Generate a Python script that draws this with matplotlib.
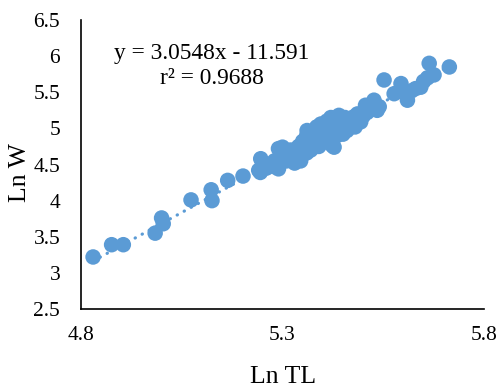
import numpy as np
import matplotlib.pyplot as plt

plt.rcParams['font.family'] = ['Liberation Serif', 'DejaVu Serif']

# Ln TL vs Ln W
ln_tl = [4.830, 4.876, 4.905, 4.984, 5.000, 5.004, 5.073, 5.123, 5.125, 5.164,
         5.202, 5.241, 5.246, 5.245,
         5.260, 5.270, 5.280, 5.280, 5.290, 5.295, 5.300, 5.303, 5.310, 5.310,
         5.320, 5.320, 5.330, 5.330, 5.340, 5.340, 5.345, 5.350, 5.350, 5.360,
         5.360, 5.361, 5.370, 5.370, 5.375, 5.380, 5.380, 5.385, 5.390, 5.390,
         5.395, 5.400, 5.400, 5.405, 5.410, 5.410, 5.415, 5.420, 5.420, 5.424,
         5.428, 5.430, 5.435, 5.440, 5.440, 5.450, 5.450, 5.455, 5.460, 5.460,
         5.470, 5.477, 5.480, 5.486, 5.494, 5.500, 5.506, 5.510, 5.520, 5.527,
         5.535, 5.540, 5.552, 5.577, 5.594, 5.600, 5.610, 5.620, 5.630, 5.643,
         5.650, 5.660, 5.664, 5.676, 5.714, 5.290, 5.300]
ln_w = [3.22, 3.39, 3.39, 3.55, 3.76, 3.68, 4.01, 4.15, 4.00, 4.28,
        4.34, 4.42, 4.58, 4.39,
        4.45, 4.50, 4.47, 4.55, 4.44, 4.52, 4.60, 4.69, 4.55, 4.65,
        4.58, 4.70, 4.62, 4.52, 4.66, 4.75, 4.55, 4.70, 4.82, 4.66,
        4.90, 4.97, 4.78, 4.70, 4.86, 4.95, 4.80, 5.02, 4.88, 4.75,
        5.06, 4.95, 4.82, 5.00, 4.90, 5.10, 4.80, 4.98, 5.15, 4.76,
        4.74, 5.05, 4.90, 5.18, 4.98, 5.08, 4.92, 5.15, 4.97, 5.05,
        5.12, 5.16, 5.02, 5.20, 5.09, 5.17, 5.32, 5.22, 5.30, 5.39,
        5.25, 5.30, 5.67, 5.48, 5.62, 5.50, 5.39, 5.52, 5.55, 5.57,
        5.65, 5.70, 5.90, 5.74, 5.85, 4.72, 4.74]

slope = 3.0548
intercept = -11.591
r2 = 0.9688

blue = '#5B9BD5'

fig = plt.figure(figsize=(4.98, 3.90), dpi=100)
ax = fig.add_axes([81 / 498, 1 - 309 / 390, (484 - 81) / 498, (309 - 20) / 390])

ax.scatter(ln_tl, ln_w, s=125, color=blue, edgecolors='none', zorder=2)

# dotted linear trendline over the data range
xs = np.array([min(ln_tl), max(ln_tl)])
ax.plot(xs, slope * xs + intercept, color=blue, lw=2.3,
        linestyle=(0, (0.1, 2.4)), dash_capstyle='round', zorder=3)

ax.set_xlim(4.8, 5.8)
ax.set_ylim(2.5, 6.5)
ax.set_xticks([4.8, 5.3, 5.8])
ax.set_xticklabels(['4.8', '5.3', '5.8'])
ax.set_yticks(np.arange(2.5, 6.51, 0.5))
ax.set_yticklabels(['2.5', '3', '3.5', '4', '4.5', '5', '5.5', '6', '6.5'])
ax.tick_params(axis='both', length=0, labelsize=15.5)
ax.tick_params(axis='x', pad=12)
ax.tick_params(axis='y', pad=15)

for side in ['top', 'right']:
    ax.spines[side].set_visible(False)
for side in ['left', 'bottom']:
    ax.spines[side].set_color('black')
    ax.spines[side].set_linewidth(1.2)

fig.text(212 / 498, 1 - 66 / 390,
         'y = %.4fx - %.3f\nr² = %.4f' % (slope, -intercept, r2),
         ha='center', va='center', multialignment='center', fontsize=16.8)

fig.text(283 / 498, 1 - 377 / 390, 'Ln TL', ha='center', va='center', fontsize=18.5)
fig.text(20 / 498, 1 - 173 / 390, 'Ln W', ha='center', va='center',
         rotation=90, fontsize=18.5)

fig.savefig('out.png', dpi=100)
